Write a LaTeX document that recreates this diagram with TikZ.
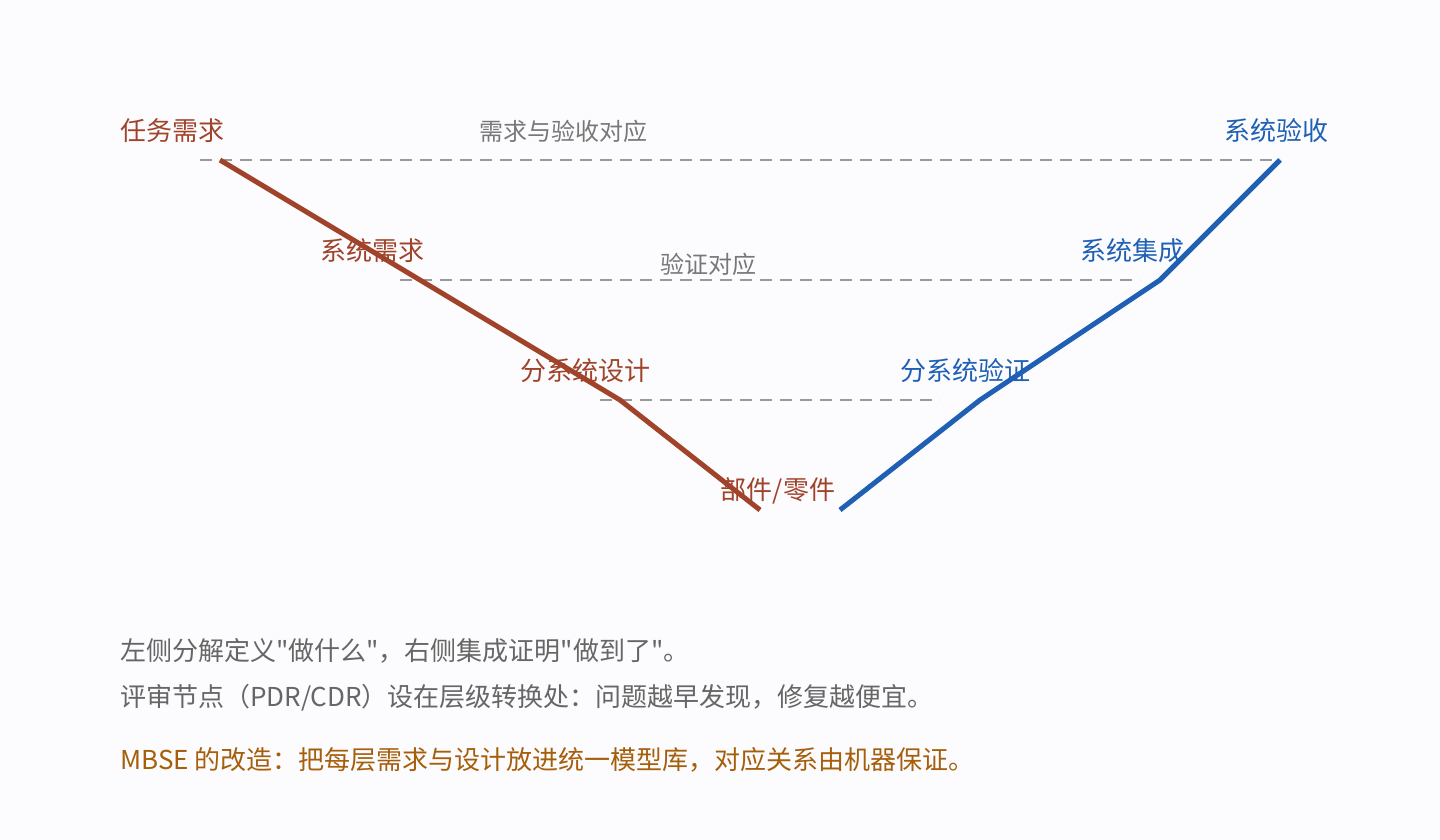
\documentclass[tikz,border=0pt]{standalone}
\usepackage{fontspec}
\newfontfamily\cjkfont{Noto Sans CJK SC}
\definecolor{bgc}{HTML}{FCFCFE}
\definecolor{brn}{HTML}{A0432A}
\definecolor{blu}{HTML}{1F60B4}
\definecolor{gdash}{HTML}{999999}
\definecolor{gtxt}{HTML}{777777}
\definecolor{btxt}{HTML}{666666}
\definecolor{otxt}{HTML}{A65E0A}
\begin{document}
\begin{tikzpicture}[x=1pt,y=-1pt,
  lbl/.style={inner sep=0pt,font=\cjkfont\fontsize{26}{30}\selectfont},
  lbrown/.style={lbl,text=brn},
  lblue/.style={lbl,text=blu},
  lgray/.style={inner sep=0pt,font=\cjkfont\fontsize{24}{28}\selectfont,text=gtxt},
  note/.style={inner sep=0pt,anchor=west,font=\cjkfont\fontsize{26}{30}\selectfont},
  corr/.style={draw=gdash,line width=2pt,dash pattern=on 12pt off 8pt},
  vleft/.style={draw=brn,line width=5pt},
  vright/.style={draw=blu,line width=5pt}]
\fill[bgc] (0,0) rectangle (1440,840);
\useasboundingbox (0,0) rectangle (1440,840);
% dashed correspondence lines
\coordinate (d1a) at (200,160); \coordinate (d1b) at (1280,160);
\coordinate (d2a) at (400,280); \coordinate (d2b) at (1140,280);
\coordinate (d3a) at (600,400); \coordinate (d3b) at (940,400);
\draw[corr] (d1a) -- (d1b);
\draw[corr] (d2a) -- (d2b);
\draw[corr] (d3a) -- (d3b);
% V points
\coordinate (l1) at (220,160);
\coordinate (l2) at (420,280);
\coordinate (l3) at (620,400);
\coordinate (l4) at (760,510);
\coordinate (r4) at (840,510);
\coordinate (r3) at (980,400);
\coordinate (r2) at (1160,280);
\coordinate (r1) at (1280,160);
\draw[vleft] (l1) -- (l2) -- (l3) -- (l4);
\draw[vright] (r4) -- (r3) -- (r2) -- (r1);
% labels
\node[lbrown] (t1) at (172,131) {任务需求};
\node[lbrown] (t2) at (372,251) {系统需求};
\node[lbrown] (t3) at (585,371) {分系统设计};
\node[lbrown] (t4) at (778,491) {部件/零件};
\node[lblue] (s1) at (1276,131) {系统验收};
\node[lblue] (s2) at (1132,251) {系统集成};
\node[lblue] (s3) at (965,371) {分系统验证};
\node[lgray] (c1) at (563,131) {需求与验收对应};
\node[lgray] (c2) at (708,264) {验证对应};
% notes
\node[note,text=btxt] (n1) at (120,651) {左侧分解定义"做什么"，右侧集成证明"做到了"。};
\node[note,text=btxt] (n2) at (120,698) {评审节点（PDR/CDR）设在层级转换处：问题越早发现，修复越便宜。};
\node[note,text=otxt] (n3) at (120,760) {MBSE 的改造：把每层需求与设计放进统一模型库，对应关系由机器保证。};
\end{tikzpicture}
\end{document}
